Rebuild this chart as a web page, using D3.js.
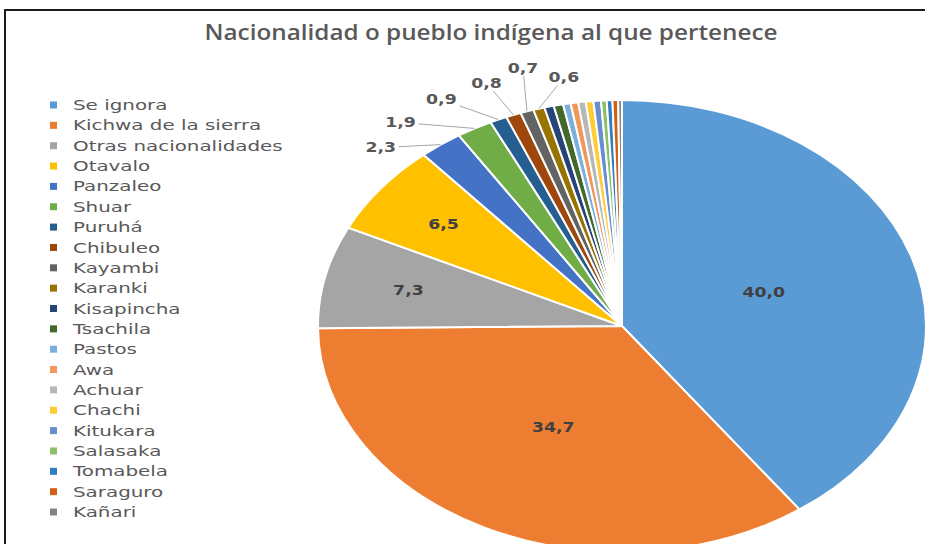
<!DOCTYPE html>
<html lang="es">
<head>
<meta charset="UTF-8" />
<title>Nacionalidad o pueblo indígena al que pertenece</title>
<style>
  html, body { margin: 0; padding: 0; background: #fff; overflow: hidden; }
  svg { display: block; }
</style>
</head>
<body>
<svg id="chart"></svg>
<script src="https://cdn.jsdelivr.net/npm/d3@7"></script>
<script>
// data (percent)
const categories = ['Se ignora', 'Kichwa de la sierra', 'Otras nacionalidades', 'Otavalo', 'Panzaleo',
  'Shuar', 'Puruhá', 'Chibuleo', 'Kayambi', 'Karanki', 'Kisapincha', 'Tsachila', 'Pastos', 'Awa',
  'Achuar', 'Chachi', 'Kitukara', 'Salasaka', 'Tomabela', 'Saraguro', 'Kañari'];
const values = [40.0, 34.7, 7.3, 6.5, 2.3, 1.9, 0.9, 0.8, 0.7, 0.6,
  0.5, 0.5, 0.4, 0.4, 0.4, 0.4, 0.4, 0.3, 0.3, 0.3, 0.2];
const title = 'Nacionalidad o pueblo indígena al que pertenece';

const colors = ['#5b9bd5', '#ed7d31', '#a5a5a5', '#ffc000', '#4472c4', '#70ad47', '#255e91',
  '#9e480e', '#636363', '#997300', '#264478', '#43682b', '#7cafdd', '#f1975a', '#b7b7b7',
  '#ffcd33', '#698ed0', '#8cc168', '#327dc2', '#d26012', '#848484'];

const width = 925, height = 544;
const cx = 622, cy = 326, rx = 304, ry = 226;

// label layout: inside labels sit on the centroid ray, outside ones are nudged off the rim
const insideFrac = [0.49, 0.5, 0.72, 0.74];
const outsideShift = [[-60, 3], [-74, -6], [-57, -20], [-27, -32], [-4, -43], [25, -31]];

const svg = d3.select('#chart').attr('width', width).attr('height', height);

svg.append('rect')
  .attr('x', 5).attr('y', 10).attr('width', 960).attr('height', 600)
  .attr('fill', '#fff').attr('stroke', '#1c1c1c').attr('stroke-width', 2);

svg.append('text')
  .attr('x', 491).attr('y', 40)
  .attr('text-anchor', 'middle')
  .attr('font-family', '"Open Sans", sans-serif')
  .attr('font-weight', 600)
  .attr('font-size', 21)
  .attr('textLength', 573).attr('lengthAdjust', 'spacingAndGlyphs')
  .attr('fill', '#595959')
  .text(title);

const data = categories.map((c, i) => ({ name: c, value: values[i], color: colors[i] }));

const pie = d3.pie().sort(null).value(d => d.value).startAngle(0).endAngle(2 * Math.PI);
const arcs = pie(data);
const arc = d3.arc().innerRadius(0).outerRadius(rx);

const pieG = svg.append('g')
  .attr('transform', `translate(${cx},${cy}) scale(1,${ry / rx})`);

pieG.selectAll('path')
  .data(arcs)
  .enter().append('path')
  .attr('d', arc)
  .attr('fill', d => d.data.color)
  .attr('stroke', '#fff')
  .attr('stroke-width', 2)
  .attr('vector-effect', 'non-scaling-stroke');

// point on the ellipse at angle a, fraction f of the radius
const onPie = (a, f) => [cx + f * rx * Math.sin(a), cy - f * ry * Math.cos(a)];
const fmt = v => v.toFixed(1).replace('.', ',');

const labelG = svg.append('g');
const addLabel = (x, y, txt, fill) => {
  labelG.append('text')
    .attr('transform', `translate(${x},${y}) scale(1.28,1)`)
    .attr('text-anchor', 'middle')
    .attr('dy', '0.36em')
    .attr('font-family', '"DejaVu Sans", sans-serif')
    .attr('font-weight', 'bold')
    .attr('font-size', 13.5)
    .attr('fill', fill)
    .text(txt);
};

arcs.slice(0, 4).forEach((d, i) => {
  const mid = (d.startAngle + d.endAngle) / 2;
  const [x, y] = onPie(mid, insideFrac[i]);
  addLabel(x, y, fmt(d.data.value), '#404040');
});

arcs.slice(4, 10).forEach((d, i) => {
  const mid = (d.startAngle + d.endAngle) / 2;
  const [ex, ey] = onPie(mid, 1);
  const lx = ex + outsideShift[i][0], ly = ey + outsideShift[i][1];
  // leader line: from the label box edge to the rim
  const hw = 18, hh = 8;
  const dx = ex - lx, dy = ey - ly;
  const t = Math.min(Math.abs(dx) > 0 ? hw / Math.abs(dx) : Infinity, Math.abs(dy) > 0 ? hh / Math.abs(dy) : Infinity);
  labelG.append('line')
    .attr('x1', lx + dx * t).attr('y1', ly + dy * t)
    .attr('x2', ex).attr('y2', ey)
    .attr('stroke', '#a6a6a6').attr('stroke-width', 1);
  addLabel(lx, ly, fmt(d.data.value), '#595959');
});

// legend
const legend = svg.append('g');
const item = legend.selectAll('g')
  .data(data)
  .enter().append('g')
  .attr('transform', (d, i) => `translate(0,${105 + i * 20.35})`);

item.append('rect')
  .attr('x', 50).attr('y', -3.5).attr('width', 7).attr('height', 7)
  .attr('fill', d => d.color);

item.append('text')
  .attr('transform', 'translate(73,0) scale(1.42,1)')
  .attr('dy', '0.36em')
  .attr('font-family', '"DejaVu Sans", sans-serif')
  .attr('font-size', 14)
  .attr('fill', '#595959')
  .text(d => d.name);
</script>
</body>
</html>
